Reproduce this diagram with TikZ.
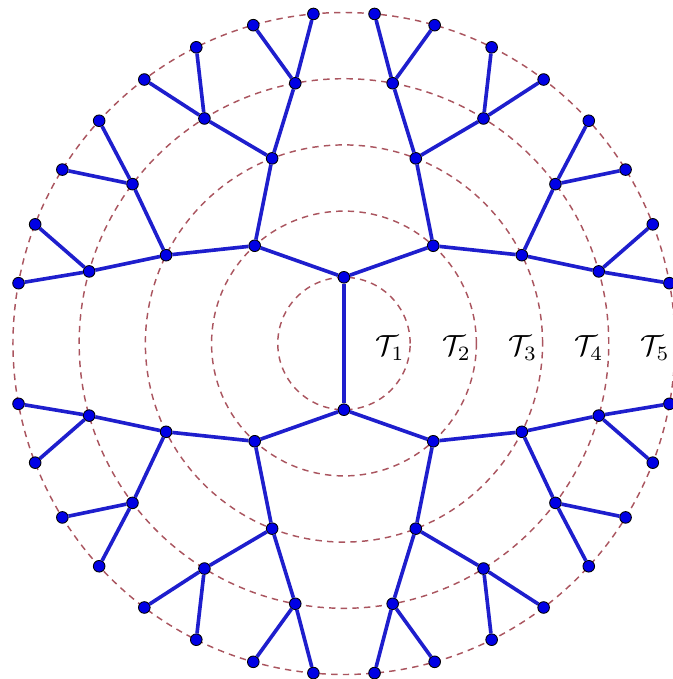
\documentclass[tikz,border=0pt]{standalone}
\definecolor{ringred}{RGB}{170,85,95}
\definecolor{treeblue}{RGB}{30,30,205}
\begin{document}
\begin{tikzpicture}[x=.8cm,y=.8cm,
  ring/.style={draw=ringred,line width=.5pt,dash pattern=on 2.2pt off 1.8pt},
  edge/.style={treeblue,line width=1.25pt},
  vtx/.style={circle,fill=blue!90!black,draw=black,line width=.3pt,inner sep=0pt,minimum size=4pt}]
  \useasboundingbox (-5.196,-5.068) rectangle (4.970,5.189);
  % rings and their labels
  \foreach \r in {1,...,5}{
    \draw[ring] (0,0) circle (\r);
    \node (lab\r) at (\r-.3,-.07) {$\mathcal{T}_{\r}$};
  }
  % the tree, upper half t and lower half b
  \foreach \h/\a in {t/90,b/270}{
    \node[vtx] (\h) at (\a:1) {};
    \foreach \i/\s in {1/-1,2/1}{
      \pgfmathsetmacro\ai{\a+\s*42.4}
      \node[vtx] (\h\i) at (\ai:2) {};
      \draw[edge] (\h) -- (\h\i);
      \foreach \j/\u in {1/-1,2/1}{
        \pgfmathsetmacro\aj{\ai+\u*21.2}
        \node[vtx] (\h\i\j) at (\aj:3) {};
        \draw[edge] (\h\i) -- (\h\i\j);
        \foreach \k/\v in {1/-1,2/1}{
          \pgfmathsetmacro\ak{\aj+\v*10.6}
          \node[vtx] (\h\i\j\k) at (\ak:4) {};
          \draw[edge] (\h\i\j) -- (\h\i\j\k);
          \foreach \l/\w in {1/-1,2/1}{
            \pgfmathsetmacro\al{\ak+\w*5.3}
            \node[vtx] (\h\i\j\k\l) at (\al:5) {};
            \draw[edge] (\h\i\j\k) -- (\h\i\j\k\l);
          }
        }
      }
    }
  }
  \draw[edge] (t) -- (b);
\end{tikzpicture}
\end{document}
